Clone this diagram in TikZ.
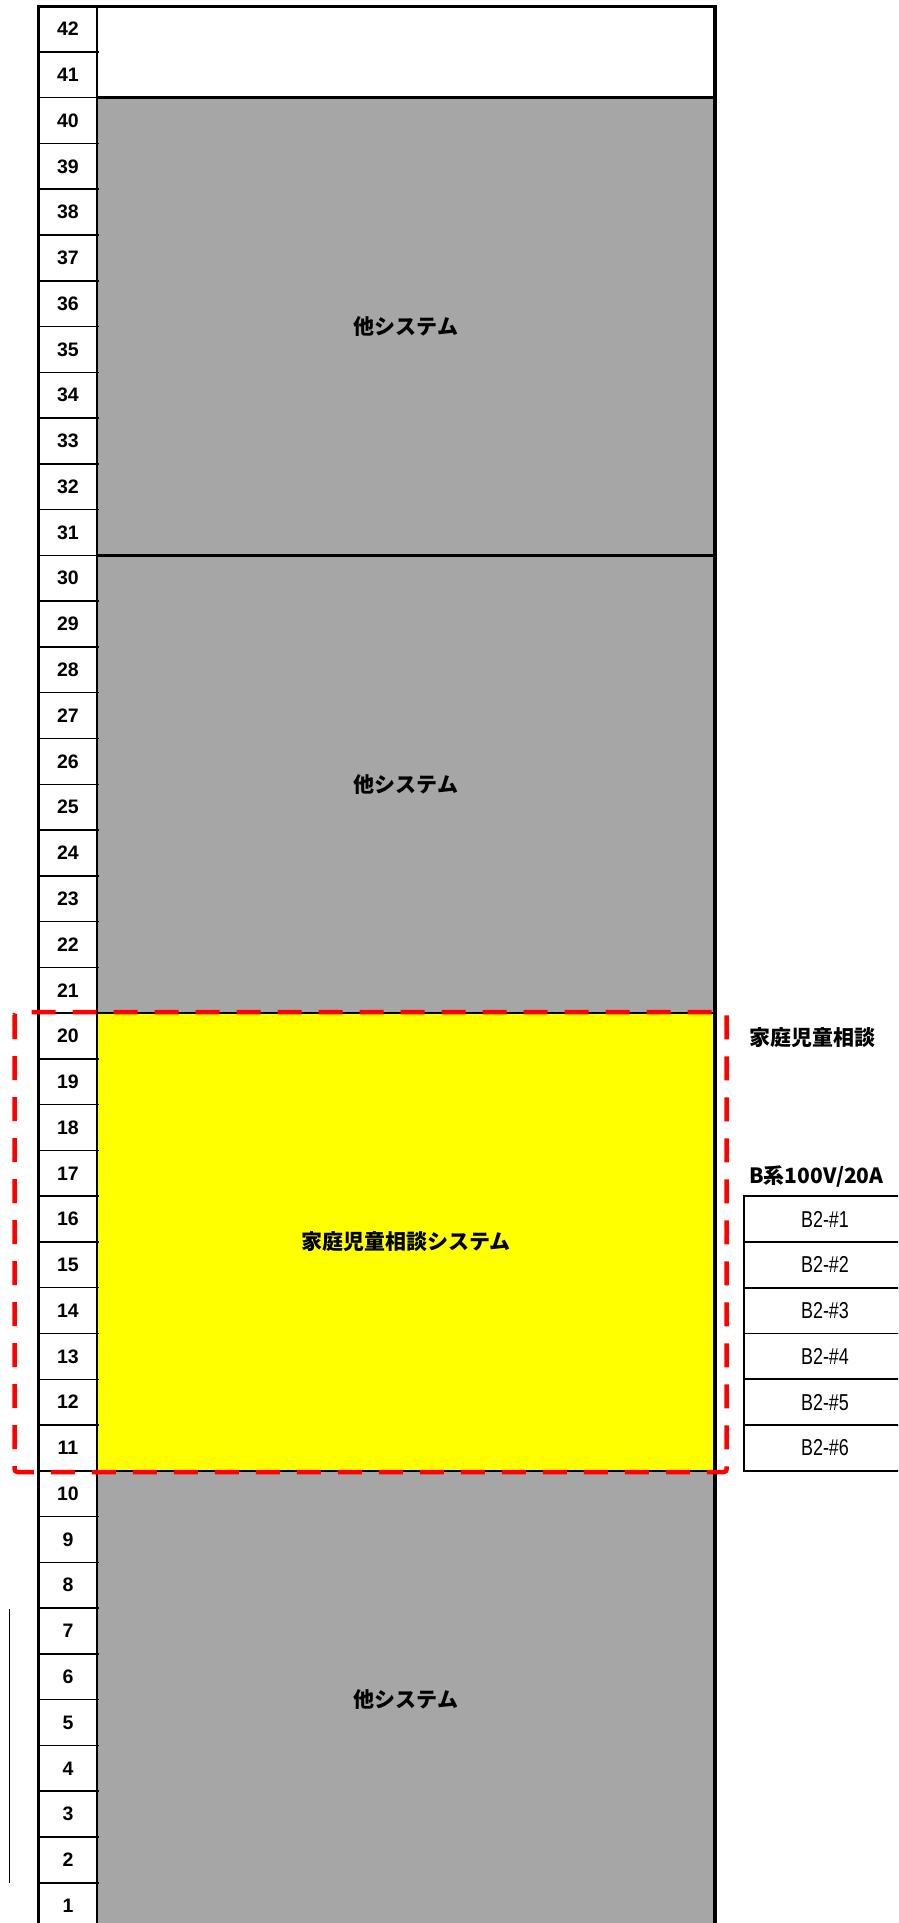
\documentclass[tikz,border=0pt]{standalone}
\usepackage{fontspec}
\usepackage{graphicx}
\setmainfont{Liberation Sans}
\newfontfamily\jp{Noto Sans CJK JP}
\definecolor{rackgray}{RGB}{166,166,166}
\definecolor{rackyellow}{RGB}{255,255,0}
\definecolor{dashred}{RGB}{255,0,0}
\begin{document}
\begin{tikzpicture}[x=1pt,y=-1pt,
  num/.style={font=\fontsize{19.5}{22}\selectfont\bfseries, inner sep=0pt},
  lbl/.style={font=\jp\bfseries\fontsize{21}{24}\selectfont, inner sep=0pt},
  btxt/.style={font=\fontsize{23}{26}\selectfont, inner sep=0pt},
  thinrule/.style={line width=1.5pt},
  sysrule/.style={line width=2.5pt},
  frame/.style={line width=3.3pt},
  powerbox/.style={line width=1.7pt},
  focus/.style={draw=dashred, line width=4.5pt, dash pattern=on 24pt off 17pt, rounded corners=3pt}]
\useasboundingbox (0,0) rectangle (898,1923);
\clip (0,0) rectangle (898,1923);
\def\T{6.16}\def\H{45.77}
% fills
\fill[rackgray] (97,{\T+2*\H}) rectangle (715,{\T+42*\H});
\fill[rackyellow] (97,{\T+22*\H}) rectangle (715,{\T+32*\H});
% number column row lines
\foreach \k in {1,...,41} \draw[thinrule] (38,{\T+\k*\H}) -- (98.5,{\T+\k*\H});
% system separators
\foreach \k in {2,12,22,32} \draw[sysrule] (97,{\T+\k*\H}) -- (715,{\T+\k*\H});
% column separator
\draw[line width=2pt] (97,\T) -- (97,1935);
% outer frame
\draw[frame] (38.5,1935) -- (38.5,6.7) -- (715,6.7) -- (715,1935);
% numbers
\foreach \k in {1,...,42} \node[num] (n\k) at (68,{\T+(42-\k+0.5)*\H}) {\k};
% system labels
\node[lbl] (sysA) at (406,{\T+7*\H}) {他システム};
\node[lbl] (sysB) at (406,{\T+17*\H}) {他システム};
\node[lbl] (kst) at (406,{\T+27*\H}) {家庭児童相談システム};
\node[lbl] (sysC) at (406,{\T+37*\H}) {他システム};
% focus frame
\draw[focus] (14.5,1012) rectangle (726.7,1472);
% right labels
\node[lbl, anchor=west] (kat) at (749,1038) {家庭児童相談};
\node[lbl, anchor=west] (bkei) at (749,1176) {B系100V/20A};
% power outlets box
\draw[powerbox] (905,{\T+26*\H}) -- (744.3,{\T+26*\H}) -- (744.3,{\T+32*\H}) -- (905,{\T+32*\H});
\foreach \k in {27,...,31} \draw[powerbox] (744.3,{\T+\k*\H}) -- (905,{\T+\k*\H});
\foreach \i in {1,...,6} \node[btxt] (b\i) at (825,{\T+(25+\i+0.5)*\H}) {\scalebox{0.78}[1]{B2-\#\i}};
% thin line at left
\coordinate (lt) at (9.7,1609);
\coordinate (lb) at (9.7,1883);
\draw[thinrule] (lt) -- (lb);
\end{tikzpicture}
\end{document}
